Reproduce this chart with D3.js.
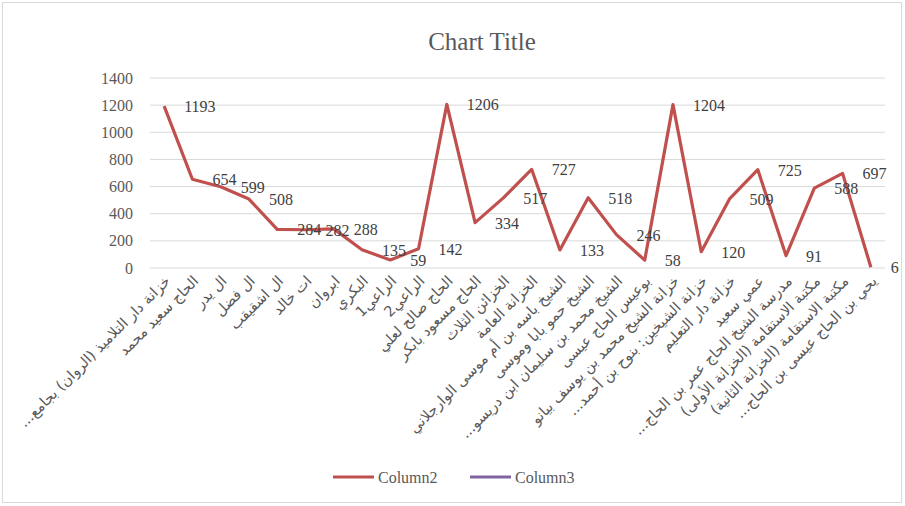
<!DOCTYPE html>
<html>
<head>
<meta charset="utf-8">
<script src="https://cdn.jsdelivr.net/npm/d3@7"></script>
<style>
body{margin:0;background:#fff;}
text{font-family:"Liberation Serif","Times New Roman",serif;}
</style>
</head>
<body>
<div id="chart"></div>
<script>
var svgW=905,svgH=506;
var categories=["خزانة دار التلاميذ (الروان) بجامع...","الحاج سعيد محمد","ال يدر","ال فضل","ال اشقيقب","ات خالد","ابروان","البكري","الراعي1","الراعي2","الحاج صالح لعلي","الحاج مسعود بابكر","الخزائن الثلاث","الخزانة العامة","الشيخ باسه بن أم موسى الوارجلاني","الشيخ حمو بابا وموسى","الشيخ محمد بن سليمان ابن دريسو...","بوعيس الحاج عيسى","خزانة الشيخ محمد بن يوسف بيانو","خزانة الشيخين: بنوح بن أحمد...","خزانة دار التعليم","عمي سعيد","مدرسة الشيخ الحاج عمر بن الحاج...","مكتبة الاستقامة (الخزانة الأولى)","مكتبة الاستقامة (الخزانة الثانية)","يحي بن الحاج عيسى بن الحاج..."];
var column2=[1193,654,599,508,284,282,288,135,59,142,1206,334,517,727,133,518,246,58,1204,120,509,725,91,588,697,6];
var yTicks=[0,200,400,600,800,1000,1200,1400];
var seriesNames=["Column2","Column3"];
var seriesColors=["#c0504d","#8064a2"];

var plotL=150,plotR=885,plotT=78,plotB=268;

var svg=d3.select("#chart").append("svg")
    .attr("width",svgW).attr("height",svgH);

svg.append("rect").attr("x",2.5).attr("y",2.5).attr("width",899).attr("height",500)
    .attr("fill","#fff").attr("stroke","#d9d9d9");

var x=d3.scaleBand().domain(categories).range([plotL,plotR]);
var y=d3.scaleLinear().domain([0,1400]).range([plotB,plotT]);

// grid
svg.append("g").selectAll("line").data(yTicks).enter().append("line")
    .attr("x1",plotL).attr("x2",plotR)
    .attr("y1",function(d){return y(d);}).attr("y2",function(d){return y(d);})
    .attr("stroke","#d9d9d9").attr("stroke-width",1);

// y labels
var yAxis=svg.append("g").attr("transform","translate("+(plotL-17)+",0)")
    .call(d3.axisLeft(y).tickValues(yTicks).tickFormat(d3.format("d")).tickSize(0).tickPadding(0));
yAxis.select(".domain").remove();
yAxis.selectAll("text").style("font-size","16px").attr("fill","#595959")
    .style("font-family","'Liberation Serif',serif");

// x labels (RLM keeps the dots at the rtl end)
var xAxis=svg.append("g").attr("transform","translate(0,"+plotB+")")
    .call(d3.axisBottom(x).tickSize(0).tickPadding(0).tickFormat(function(d){return d+"\u200F";}));
xAxis.select(".domain").remove();
xAxis.selectAll("text")
    .style("font-size","14.5px").style("font-family","'DejaVu Sans',sans-serif")
    .attr("fill","#595959")
    .attr("text-anchor","end")
    .attr("dy","0")
    .attr("transform","translate(7,14) rotate(-45)");

// line
var cx=function(d,i){return x(categories[i])+x.bandwidth()/2;};
var line=d3.line().x(cx).y(function(d){return y(d);});
svg.append("path").datum(column2)
    .attr("d",line).attr("fill","none")
    .attr("stroke",seriesColors[0]).attr("stroke-width",3.2)
    .attr("stroke-linejoin","round");

// data labels
svg.append("g").selectAll("text").data(column2).enter().append("text")
    .attr("x",function(d,i){return cx(d,i)+20;})
    .attr("y",function(d){return y(d)+6;})
    .style("font-size","16px").attr("fill","#404040")
    .text(function(d){return d;});

// title
svg.append("text").attr("x",482).attr("y",50).attr("text-anchor","middle")
    .style("font-size","25px").attr("fill","#595959").text("Chart Title");

// legend
var legX=[333,470];
var leg=svg.append("g").selectAll("g").data(seriesNames).enter().append("g")
    .attr("transform",function(d,i){return "translate("+legX[i]+",477)";});
leg.append("line").attr("x1",0).attr("x2",41).attr("y1",0).attr("y2",0)
    .attr("stroke",function(d,i){return seriesColors[i];}).attr("stroke-width",3.2);
leg.append("text").attr("x",45).attr("y",6).style("font-size","16px")
    .attr("fill","#595959").text(function(d){return d;});
</script>
</body>
</html>
